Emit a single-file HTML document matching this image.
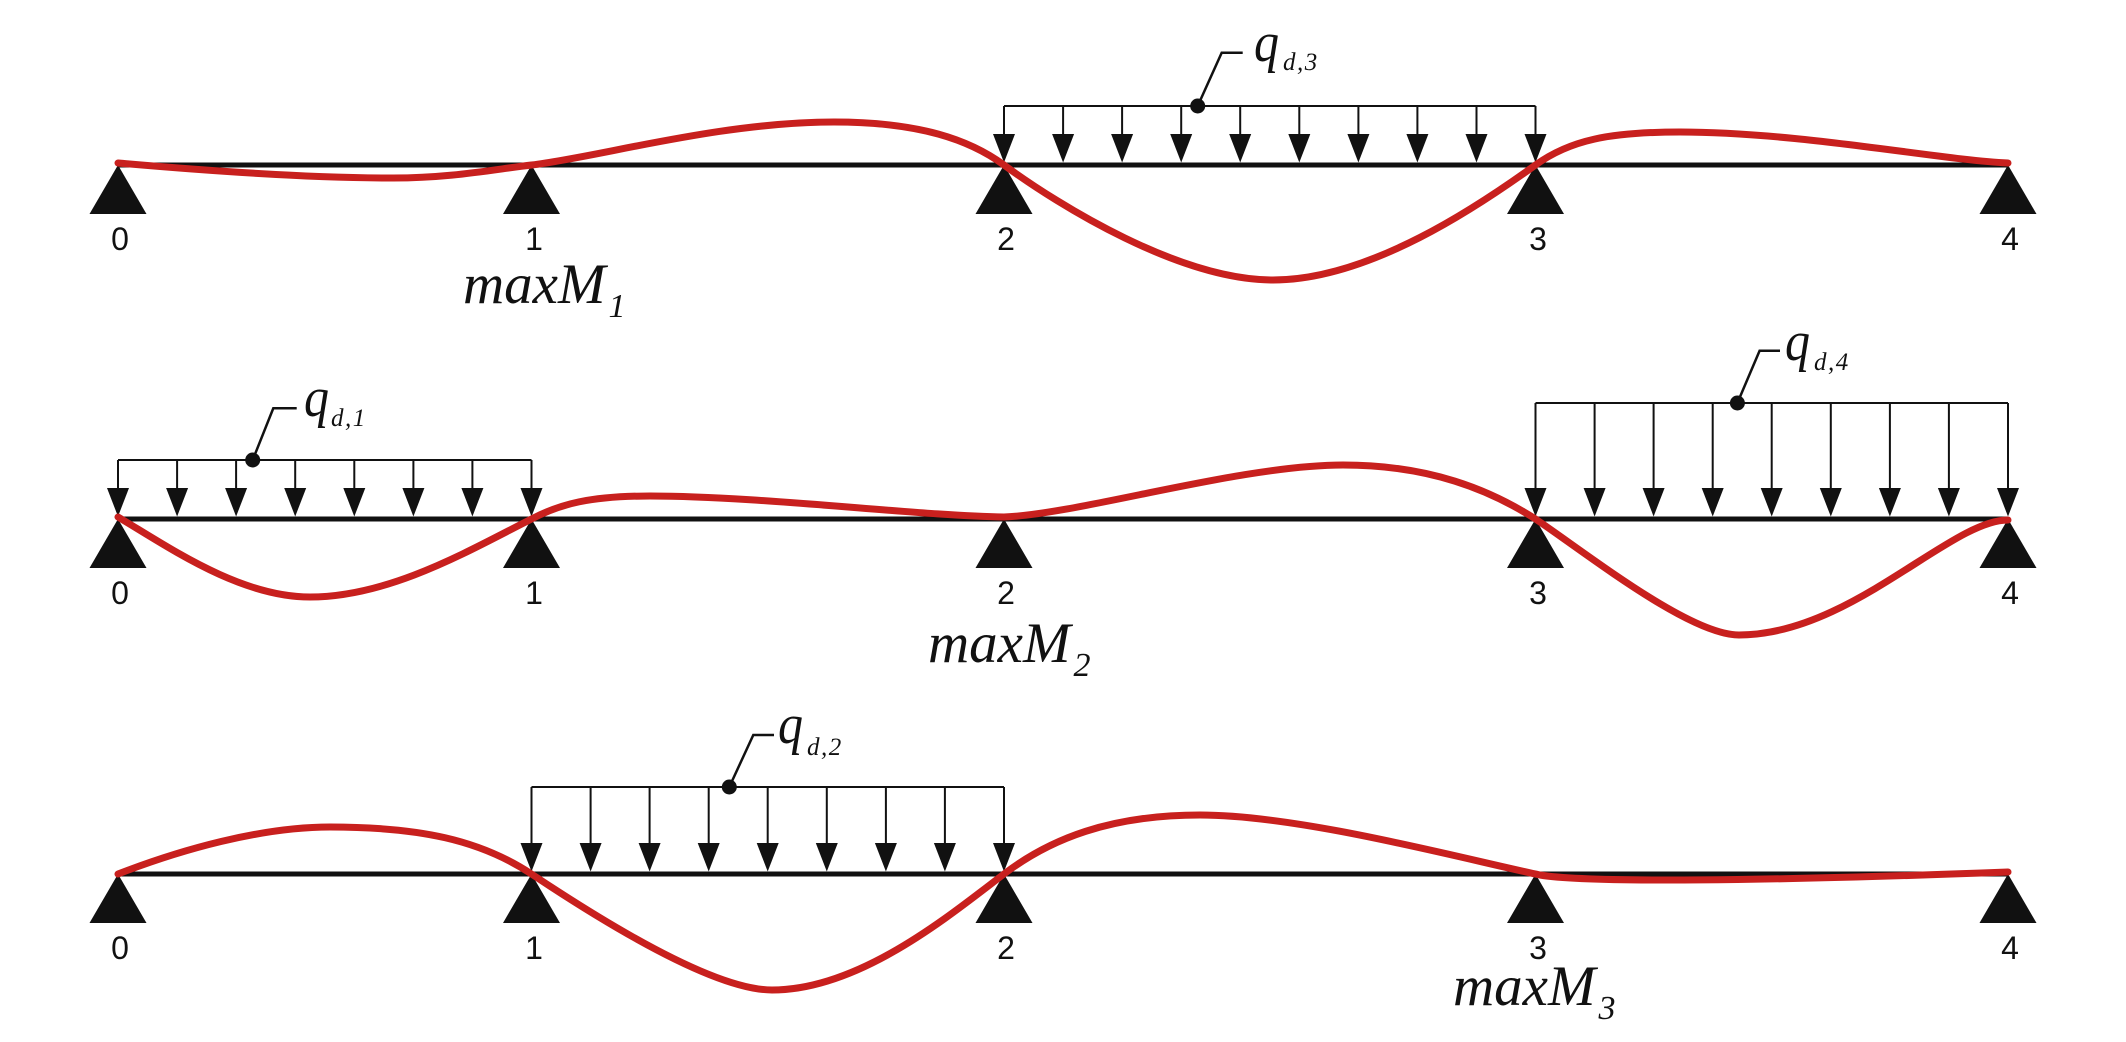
<!DOCTYPE html>
<html>
<head>
<meta charset="utf-8">
<style>
  html, body { margin: 0; padding: 0; background: #ffffff; }
  svg { display: block; }
  .num { font-family: "Liberation Sans", Arial, sans-serif; font-size: 32px; fill: #111; text-anchor: middle; }
  .mx { font-family: "Liberation Serif", "Times New Roman", serif; font-style: italic; font-size: 57px; fill: #111; }
  .q { font-family: "Liberation Serif", "Times New Roman", serif; font-style: italic; font-size: 56px; fill: #111; }
  .sub { font-family: "Liberation Serif", "Times New Roman", serif; font-style: italic; font-size: 25px; letter-spacing: 1.5px; fill: #111; }
</style>
</head>
<body>
<svg width="2126" height="1042" viewBox="0 0 2126 1042" xmlns="http://www.w3.org/2000/svg">
  <defs>
    <path id="ah" d="M-11,-28.5 L11,-28.5 L0,0 Z" fill="#111"/>
    <path id="sup" d="M0,0 L28.5,49 L-28.5,49 Z" fill="#111"/>
  </defs>
  <rect width="2126" height="1042" fill="#fff"/>

  <!-- ================= ROW 1 (beam y=165) ================= -->
  <line x1="118" y1="165" x2="2008" y2="165" stroke="#111" stroke-width="5"/>
  <use href="#sup" x="118" y="165"/>
  <use href="#sup" x="531.5" y="165"/>
  <use href="#sup" x="1004" y="165"/>
  <use href="#sup" x="1535.5" y="165"/>
  <use href="#sup" x="2008" y="165"/>
  <text class="num" x="120" y="250">0</text>
  <text class="num" x="534" y="250">1</text>
  <text class="num" x="1006" y="250">2</text>
  <text class="num" x="1538" y="250">3</text>
  <text class="num" x="2010" y="250">4</text>
  <text class="mx" x="463" y="303">maxM<tspan dx="3" dy="14" font-size="34">1</tspan></text>

  <!-- load q_d,3 -->
  <path d="M1004,106 H1535.5 M1004,106 V136 M1063.1,106 V136 M1122.1,106 V136 M1181.2,106 V136 M1240.2,106 V136 M1299.3,106 V136 M1358.4,106 V136 M1417.4,106 V136 M1476.5,106 V136 M1535.5,106 V136" stroke="#111" stroke-width="2" fill="none"/>
  <use href="#ah" x="1004" y="162.5"/>
  <use href="#ah" x="1063.1" y="162.5"/>
  <use href="#ah" x="1122.1" y="162.5"/>
  <use href="#ah" x="1181.2" y="162.5"/>
  <use href="#ah" x="1240.2" y="162.5"/>
  <use href="#ah" x="1299.3" y="162.5"/>
  <use href="#ah" x="1358.4" y="162.5"/>
  <use href="#ah" x="1417.4" y="162.5"/>
  <use href="#ah" x="1476.5" y="162.5"/>
  <use href="#ah" x="1535.5" y="162.5"/>
  <path d="M1197.7,106 L1221.7,52.7 H1242.7" stroke="#111" stroke-width="2.5" fill="none"/>
  <circle cx="1197.7" cy="106" r="7.5" fill="#111"/>
  <text class="q" x="1254" y="61" textLength="25" lengthAdjust="spacingAndGlyphs">q</text>
  <text class="sub" x="1283" y="70">d,3</text>

  <!-- ================= ROW 2 (beam y=519) ================= -->
  <line x1="118" y1="519" x2="2008" y2="519" stroke="#111" stroke-width="5"/>
  <use href="#sup" x="118" y="519"/>
  <use href="#sup" x="531.5" y="519"/>
  <use href="#sup" x="1004" y="519"/>
  <use href="#sup" x="1535.5" y="519"/>
  <use href="#sup" x="2008" y="519"/>
  <text class="num" x="120" y="604">0</text>
  <text class="num" x="534" y="604">1</text>
  <text class="num" x="1006" y="604">2</text>
  <text class="num" x="1538" y="604">3</text>
  <text class="num" x="2010" y="604">4</text>
  <text class="mx" x="928" y="662">maxM<tspan dx="3" dy="14" font-size="34">2</tspan></text>

  <!-- load q_d,1 -->
  <path d="M118,460 H531.5 M118,460 V490 M177.1,460 V490 M236.1,460 V490 M295.2,460 V490 M354.3,460 V490 M413.4,460 V490 M472.4,460 V490 M531.5,460 V490" stroke="#111" stroke-width="2" fill="none"/>
  <use href="#ah" x="118" y="516.5"/>
  <use href="#ah" x="177.1" y="516.5"/>
  <use href="#ah" x="236.1" y="516.5"/>
  <use href="#ah" x="295.2" y="516.5"/>
  <use href="#ah" x="354.3" y="516.5"/>
  <use href="#ah" x="413.4" y="516.5"/>
  <use href="#ah" x="472.4" y="516.5"/>
  <use href="#ah" x="531.5" y="516.5"/>
  <path d="M252.7,460 L273.3,408.3 H296.7" stroke="#111" stroke-width="2.5" fill="none"/>
  <circle cx="252.7" cy="460" r="7.5" fill="#111"/>
  <text class="q" x="304" y="416" textLength="25" lengthAdjust="spacingAndGlyphs">q</text>
  <text class="sub" x="331" y="426">d,1</text>

  <!-- load q_d,4 -->
  <path d="M1535.5,403 H2008 M1535.5,403 V490 M1594.6,403 V490 M1653.6,403 V490 M1712.7,403 V490 M1771.7,403 V490 M1830.8,403 V490 M1889.9,403 V490 M1948.9,403 V490 M2008,403 V490" stroke="#111" stroke-width="2" fill="none"/>
  <use href="#ah" x="1535.5" y="516.5"/>
  <use href="#ah" x="1594.6" y="516.5"/>
  <use href="#ah" x="1653.6" y="516.5"/>
  <use href="#ah" x="1712.7" y="516.5"/>
  <use href="#ah" x="1771.7" y="516.5"/>
  <use href="#ah" x="1830.8" y="516.5"/>
  <use href="#ah" x="1889.9" y="516.5"/>
  <use href="#ah" x="1948.9" y="516.5"/>
  <use href="#ah" x="2008" y="516.5"/>
  <path d="M1737.4,403 L1759.6,350.7 H1780" stroke="#111" stroke-width="2.5" fill="none"/>
  <circle cx="1737.4" cy="403" r="7.5" fill="#111"/>
  <text class="q" x="1785" y="360" textLength="25" lengthAdjust="spacingAndGlyphs">q</text>
  <text class="sub" x="1814" y="370">d,4</text>

  <!-- ================= ROW 3 (beam y=874) ================= -->
  <line x1="118" y1="874" x2="2008" y2="874" stroke="#111" stroke-width="5"/>
  <use href="#sup" x="118" y="874"/>
  <use href="#sup" x="531.5" y="874"/>
  <use href="#sup" x="1004" y="874"/>
  <use href="#sup" x="1535.5" y="874"/>
  <use href="#sup" x="2008" y="874"/>
  <text class="num" x="120" y="959">0</text>
  <text class="num" x="534" y="959">1</text>
  <text class="num" x="1006" y="959">2</text>
  <text class="num" x="1538" y="959">3</text>
  <text class="num" x="2010" y="959">4</text>
  <text class="mx" x="1453" y="1005">maxM<tspan dx="3" dy="14" font-size="34">3</tspan></text>

  <!-- load q_d,2 -->
  <path d="M531.5,787 H1004 M531.5,787 V845 M590.6,787 V845 M649.6,787 V845 M708.7,787 V845 M767.7,787 V845 M826.8,787 V845 M885.9,787 V845 M944.9,787 V845 M1004,787 V845" stroke="#111" stroke-width="2" fill="none"/>
  <use href="#ah" x="531.5" y="871.5"/>
  <use href="#ah" x="590.6" y="871.5"/>
  <use href="#ah" x="649.6" y="871.5"/>
  <use href="#ah" x="708.7" y="871.5"/>
  <use href="#ah" x="767.7" y="871.5"/>
  <use href="#ah" x="826.8" y="871.5"/>
  <use href="#ah" x="885.9" y="871.5"/>
  <use href="#ah" x="944.9" y="871.5"/>
  <use href="#ah" x="1004" y="871.5"/>
  <path d="M729.3,787 L753.3,735 H774" stroke="#111" stroke-width="2.5" fill="none"/>
  <circle cx="729.3" cy="787" r="7.5" fill="#111"/>
  <text class="q" x="778" y="743" textLength="25" lengthAdjust="spacingAndGlyphs">q</text>
  <text class="sub" x="807" y="755">d,2</text>

  <!-- ================= RED DEFLECTION CURVES ================= -->
  <g fill="none" stroke="#c8201e" stroke-width="7" stroke-linecap="round" stroke-linejoin="round">
    <!-- row 1 -->
    <path d="M118,163 C220,172 320,178 393,178 C450,178 490,170 531.5,165 C600,156.8 720,122 834,122 C920,122 970,140 1004,165 C1060,206 1180,280 1273,280 C1370,280 1480,205 1535.5,165 C1570,140 1610,132 1680,132 C1800,132 1940,160 2008,163"/>
    <!-- row 2 -->
    <path d="M118,517 C170,548 240,597 310,597 C390,597 470,550 531.5,519 C560,504 590,496 650,496 C760,496 920,516 1004,517 C1080,514 1240,465 1343,465 C1430,465 1490,490 1535.5,519 C1590,556 1690,635 1739,635 C1850,635 1950,520 2008,520"/>
    <!-- row 3 -->
    <path d="M118,874 C180,850 260,827 330,827 C420,827 480,840 531.5,874 C590,913 710,990 772,990 C860,990 950,915 1004,874 C1050,839 1110,815 1200,815 C1300,815 1460,858 1540,875 C1600,885 1850,878 2008,872"/>
  </g>
</svg>
</body>
</html>
